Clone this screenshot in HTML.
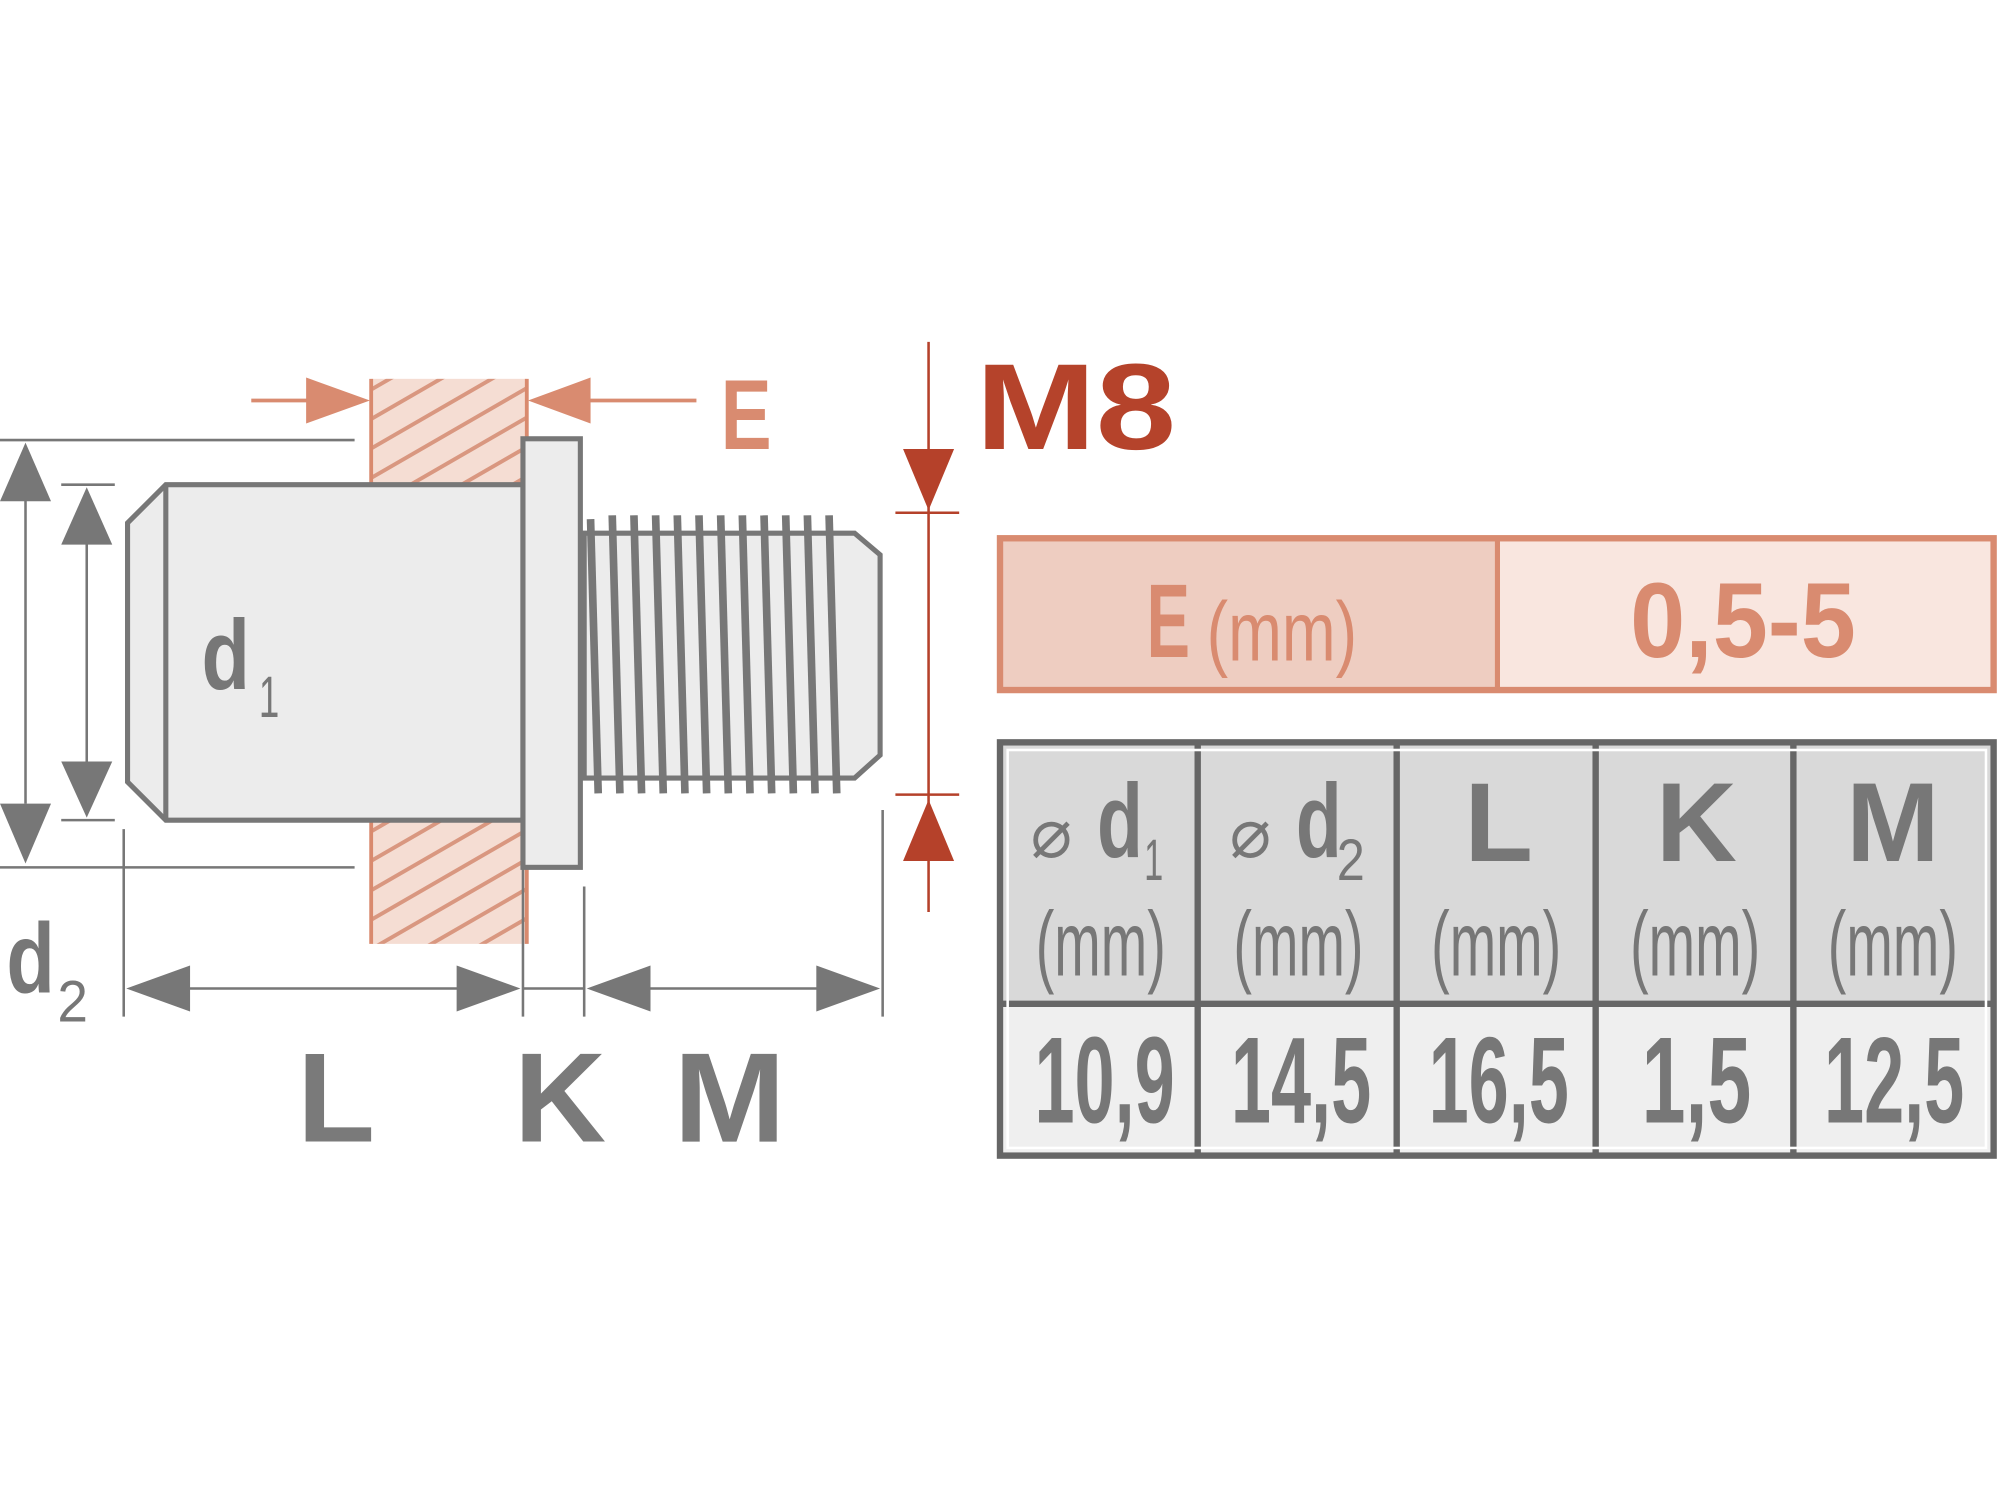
<!DOCTYPE html>
<html><head><meta charset="utf-8"><style>
html,body{margin:0;padding:0;background:#fff;}
svg{display:block}
text{font-family:"Liberation Sans",sans-serif;}
</style></head><body>
<svg width="2000" height="1500" viewBox="0 0 1568 1176" xmlns="http://www.w3.org/2000/svg">
<defs>
<pattern id="h" patternUnits="userSpaceOnUse" width="20" height="20" patternTransform="rotate(-30)">
<rect width="20" height="20" fill="#f5ddd3"/>
<line x1="0" y1="10" x2="20" y2="10" stroke="#d99780" stroke-width="3"/>
</pattern>
</defs>
<rect width="1568" height="1176" fill="#fff"/>
<rect x="291" y="297" width="122" height="82" fill="url(#h)"/>
<rect x="291" y="643" width="122" height="97" fill="url(#h)"/>
<g stroke="#d98a6e" stroke-width="3">
<line x1="291" y1="297" x2="291" y2="379"/><line x1="413" y1="297" x2="413" y2="379"/>
<line x1="291" y1="643" x2="291" y2="740"/><line x1="413" y1="643" x2="413" y2="740"/>
</g>
<g fill="#d98b70" stroke="#d98b70" stroke-width="3">
<line x1="197" y1="314" x2="245" y2="314"/><polygon points="240,296 290,314 240,332" stroke="none"/>
<line x1="460" y1="314" x2="546" y2="314"/><polygon points="463,296 414,314 463,332" stroke="none"/>
</g>
<text x="565" y="352" font-size="78" fill="#d98b70" font-weight="bold" textLength="40" lengthAdjust="spacingAndGlyphs">E</text>
<g stroke="#b5412a" stroke-width="2" fill="#b5412a">
<line x1="728" y1="268" x2="728" y2="715"/>
<line x1="702" y1="402" x2="752" y2="402"/>
<line x1="702" y1="623" x2="752" y2="623"/>
<polygon points="708,352 748,352 728,400" stroke="none"/>
<polygon points="708,675 748,675 728,627" stroke="none"/>
</g>
<text x="765" y="352" font-size="96" font-weight="bold" fill="#b5432b" textLength="157" lengthAdjust="spacingAndGlyphs">M8</text>
<g stroke="#777" stroke-width="4" fill="#ececec">
<polygon points="130,380 410,380 410,643 130,643 100,613 100,410"/>
<line x1="130" y1="380" x2="130" y2="643"/>
<rect x="410" y="344" width="45" height="336"/>
<polygon points="458,418 670,418 690,435 690,592 670,610 458,610"/>
</g>
<g stroke="#777" stroke-width="6" fill="none">
<line x1="463" y1="407" x2="469" y2="622"/><line x1="480" y1="404" x2="486" y2="622"/>
<line x1="497" y1="404" x2="503" y2="622"/><line x1="514" y1="404" x2="520" y2="622"/>
<line x1="531" y1="404" x2="537" y2="622"/><line x1="548" y1="404" x2="554" y2="622"/>
<line x1="565" y1="404" x2="571" y2="622"/><line x1="582" y1="404" x2="588" y2="622"/>
<line x1="599" y1="404" x2="605" y2="622"/><line x1="616" y1="404" x2="622" y2="622"/>
<line x1="633" y1="404" x2="639" y2="622"/><line x1="650" y1="404" x2="656" y2="622"/>
</g>
<g fill="#777" font-weight="bold">
<text x="158" y="540" font-size="78" textLength="38" lengthAdjust="spacingAndGlyphs">d</text>
<text x="203" y="562" font-size="46" textLength="16" lengthAdjust="spacingAndGlyphs" font-weight="normal">1</text>
<text x="5" y="778" font-size="78" textLength="38" lengthAdjust="spacingAndGlyphs">d</text>
<text x="45" y="801" font-size="46" textLength="24" lengthAdjust="spacingAndGlyphs" font-weight="normal">2</text>
</g>
<g stroke="#777" stroke-width="2" fill="#777">
<line x1="0" y1="345" x2="278" y2="345"/><line x1="0" y1="680" x2="278" y2="680"/>
<line x1="48" y1="380" x2="90" y2="380"/><line x1="48" y1="643" x2="90" y2="643"/>
<line x1="20" y1="390" x2="20" y2="630"/><line x1="68" y1="425" x2="68" y2="600"/>
<polygon points="0,393 40,393 20,347" stroke="none"/><polygon points="0,630 40,630 20,677" stroke="none"/>
<polygon points="48,427 88,427 68,382" stroke="none"/><polygon points="48,597 88,597 68,641" stroke="none"/>
<line x1="97" y1="650" x2="97" y2="797"/><line x1="410" y1="680" x2="410" y2="797"/>
<line x1="458" y1="695" x2="458" y2="797"/><line x1="692" y1="635" x2="692" y2="797"/>
<line x1="140" y1="775" x2="365" y2="775"/><line x1="410" y1="775" x2="458" y2="775"/>
<line x1="500" y1="775" x2="650" y2="775"/>
<polygon points="99,775 149,757 149,793" stroke="none"/><polygon points="408,775 358,757 358,793" stroke="none"/>
<polygon points="460,775 510,757 510,793" stroke="none"/><polygon points="690,775 640,757 640,793" stroke="none"/>
</g>
<g font-weight="bold" font-size="100" fill="#7a7a7a">
<text x="233" y="895">L</text><text x="403" y="895">K</text><text x="528" y="895" textLength="88" lengthAdjust="spacingAndGlyphs">M</text>
</g>
<rect x="784" y="422" width="390" height="119" fill="#eecdc1"/>
<rect x="1174" y="422" width="389" height="119" fill="#f9e6df"/>
<rect x="784" y="422" width="779" height="119" fill="none" stroke="#d98b70" stroke-width="5"/>
<line x1="1174" y1="422" x2="1174" y2="541" stroke="#d98b70" stroke-width="4"/>
<text x="899" y="515" font-size="82" fill="#d98b70" font-weight="bold" textLength="34" lengthAdjust="spacingAndGlyphs">E</text>
<text x="946" y="518" font-size="66" fill="#d98b70" textLength="118" lengthAdjust="spacingAndGlyphs">(mm)</text>
<text x="1278" y="515" font-size="84" fill="#d98b70" font-weight="bold" textLength="177" lengthAdjust="spacingAndGlyphs">0,5-5</text>
<rect x="784" y="582" width="779" height="205" fill="#d9d9d9"/>
<rect x="784" y="787" width="779" height="119" fill="#efefef"/>
<g stroke="#666" stroke-width="5" fill="none">
<rect x="784" y="582" width="779" height="324"/>
<line x1="784" y1="787" x2="1563" y2="787"/>
<line x1="939" y1="582" x2="939" y2="906"/><line x1="1095" y1="582" x2="1095" y2="906"/>
<line x1="1251" y1="582" x2="1251" y2="906"/><line x1="1406" y1="582" x2="1406" y2="906"/>
</g>
<g stroke="#fff" stroke-width="2" fill="none"><rect x="790" y="588" width="767" height="312"/></g>
<g fill="#777">
<text x="808" y="672" font-size="54">⌀</text>
<text x="860" y="672" font-size="82" font-weight="bold" textLength="36" lengthAdjust="spacingAndGlyphs">d</text>
<text x="897" y="690" font-size="46" textLength="15" lengthAdjust="spacingAndGlyphs">1</text>
<text x="964" y="672" font-size="54">⌀</text>
<text x="1016" y="672" font-size="82" font-weight="bold" textLength="36" lengthAdjust="spacingAndGlyphs">d</text>
<text x="1048" y="690" font-size="46" textLength="22" lengthAdjust="spacingAndGlyphs">2</text>
<g font-size="72">
<text x="812" y="765" textLength="102" lengthAdjust="spacingAndGlyphs">(mm)</text>
<text x="967" y="765" textLength="102" lengthAdjust="spacingAndGlyphs">(mm)</text>
<text x="1122" y="765" textLength="102" lengthAdjust="spacingAndGlyphs">(mm)</text>
<text x="1278" y="765" textLength="102" lengthAdjust="spacingAndGlyphs">(mm)</text>
<text x="1433" y="765" textLength="102" lengthAdjust="spacingAndGlyphs">(mm)</text>
</g>
<g font-size="96" font-weight="bold">
<text x="811" y="880" textLength="110" lengthAdjust="spacingAndGlyphs">10,9</text>
<text x="965" y="880" textLength="110" lengthAdjust="spacingAndGlyphs">14,5</text>
<text x="1120" y="880" textLength="110" lengthAdjust="spacingAndGlyphs">16,5</text>
<text x="1287" y="880" textLength="86" lengthAdjust="spacingAndGlyphs">1,5</text>
<text x="1430" y="880" textLength="110" lengthAdjust="spacingAndGlyphs">12,5</text>
</g>
</g>
<g font-weight="bold" fill="#777" font-size="88" text-anchor="middle">
<text x="1175" y="675">L</text><text x="1330" y="675">K</text><text x="1484" y="675">M</text>
</g>
</svg>
</body></html>
